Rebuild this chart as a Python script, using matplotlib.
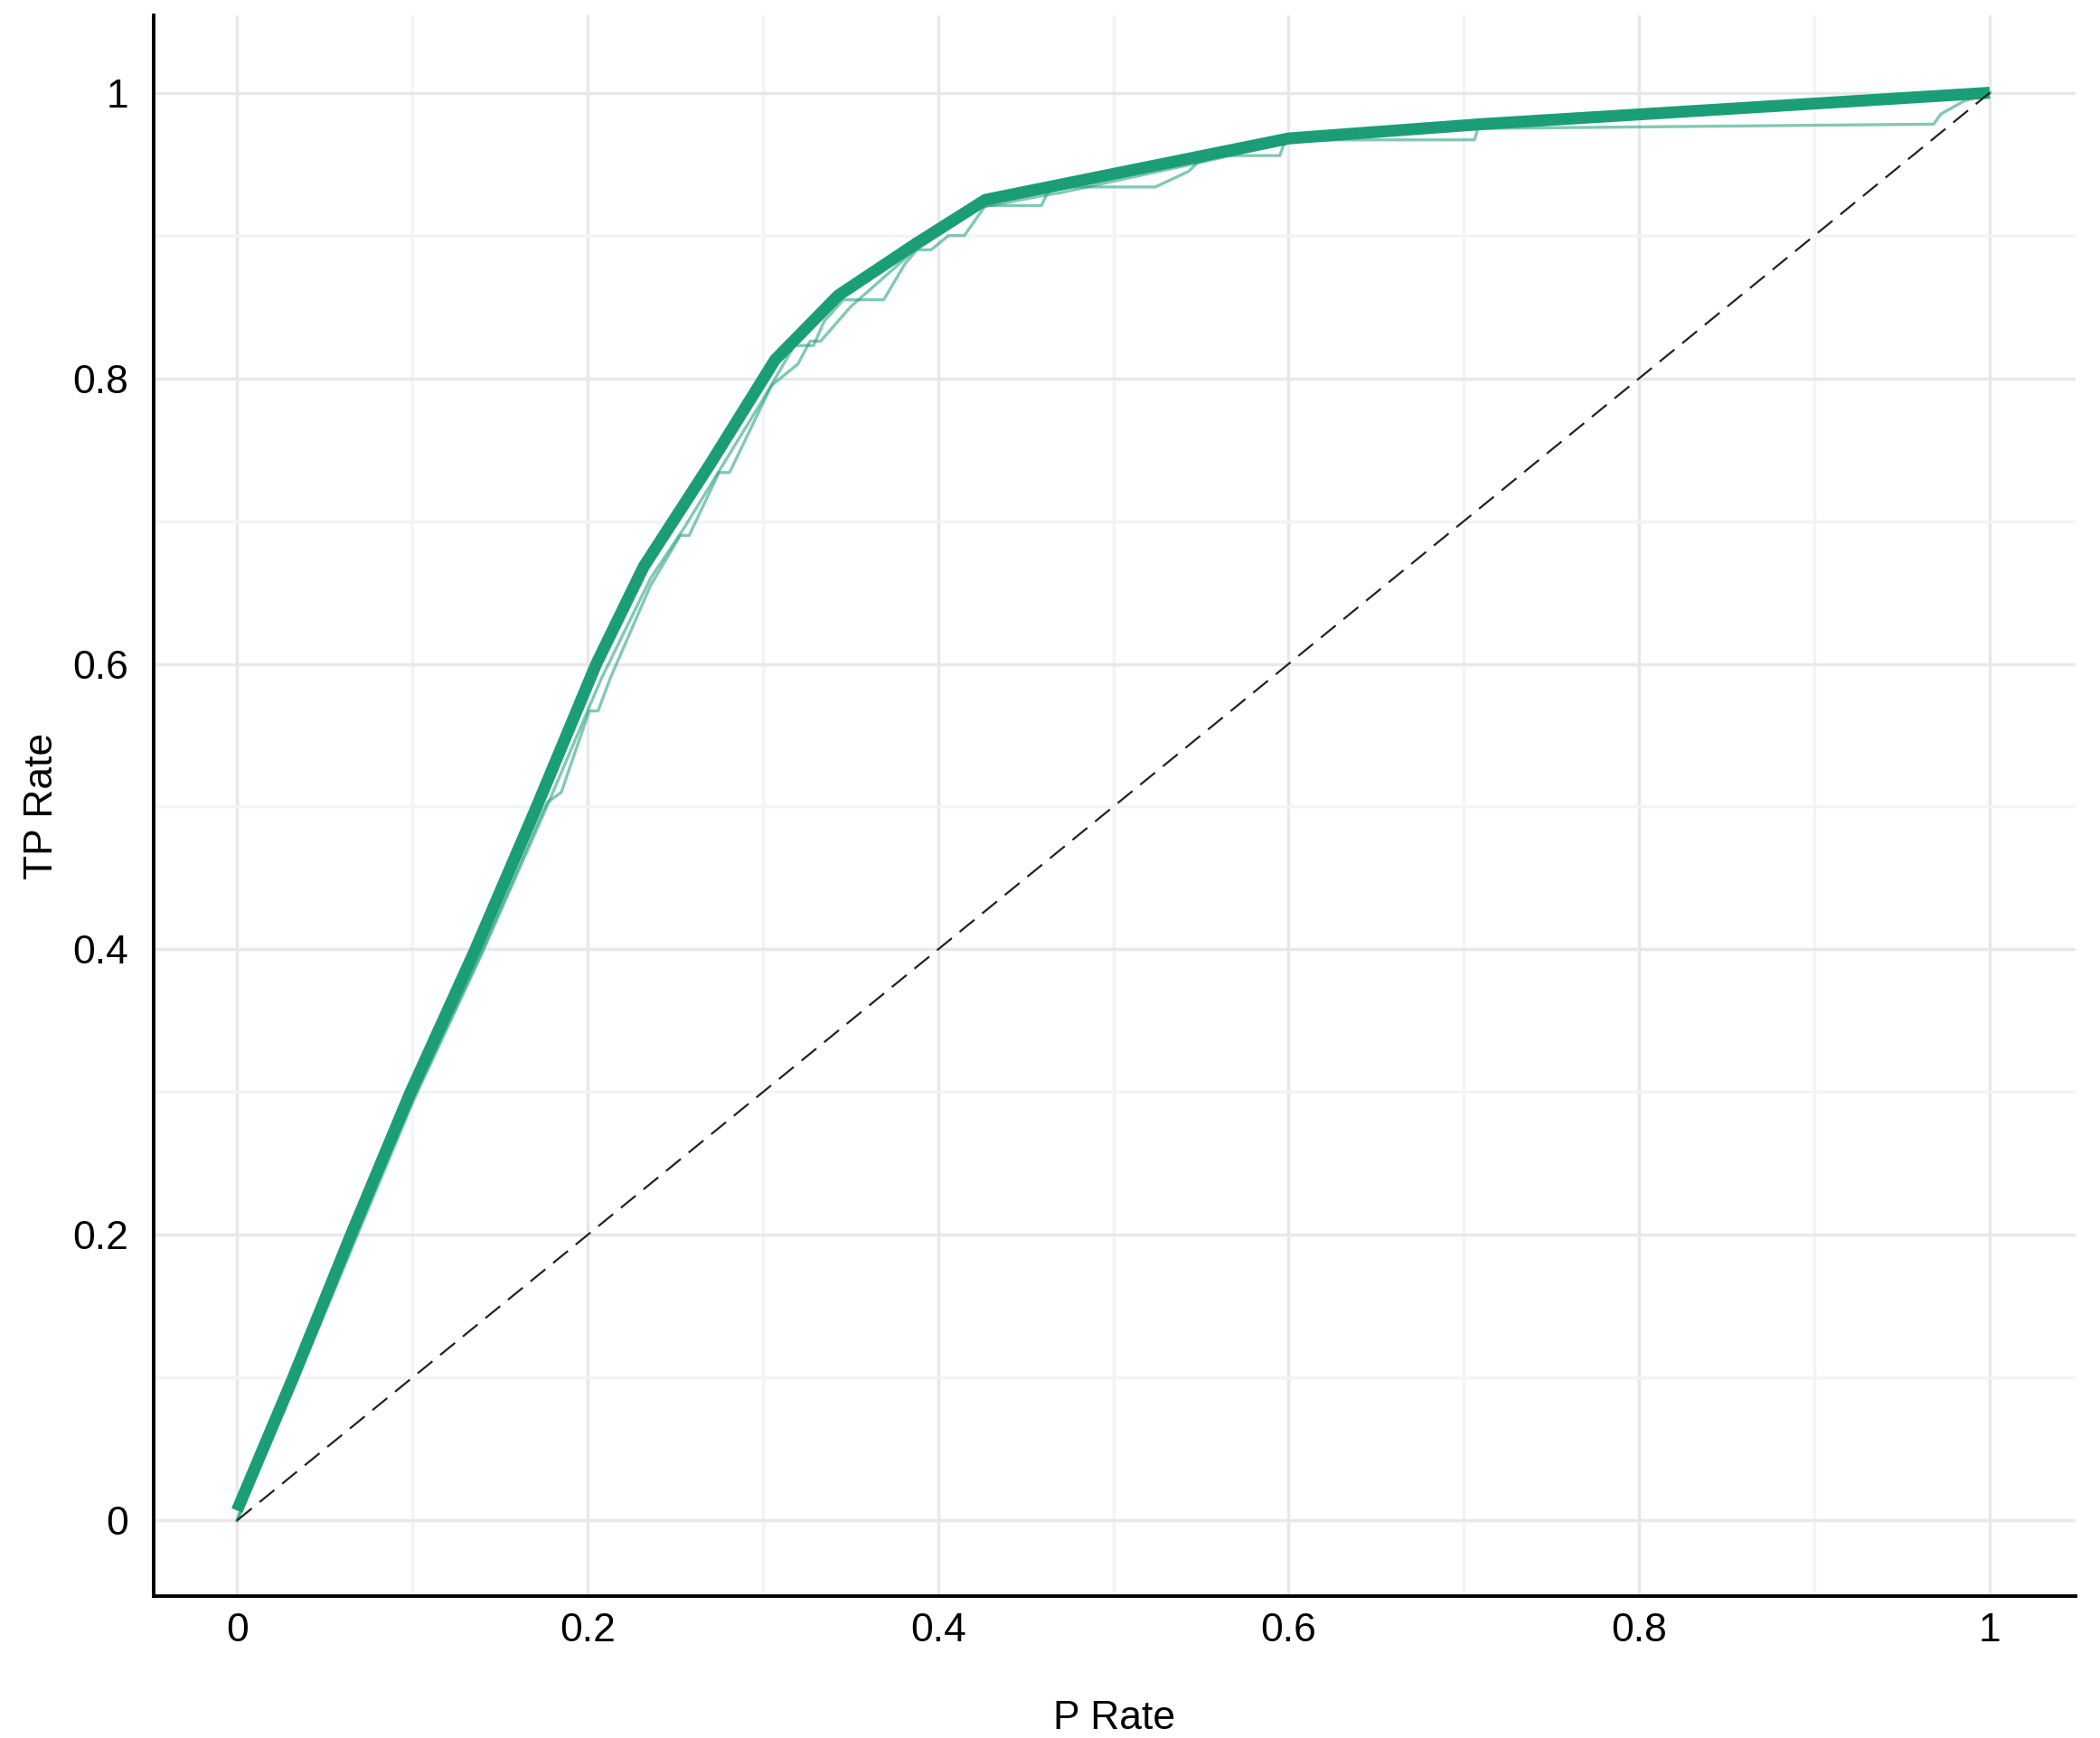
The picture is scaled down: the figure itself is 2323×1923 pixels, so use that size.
import matplotlib
matplotlib.use('Agg')
import matplotlib.pyplot as plt
from matplotlib.ticker import MultipleLocator, FuncFormatter

plt.rcParams['font.family'] = ['Liberation Sans', 'DejaVu Sans']

green = '#1b9e77'

# mean curve
p_rate = [0.0, 0.032, 0.065, 0.099, 0.136, 0.171, 0.205, 0.232, 0.270, 0.307,
          0.343, 0.387, 0.427, 0.600, 0.710, 1.0]
tp_rate = [0.007, 0.10, 0.20, 0.30, 0.40, 0.50, 0.60, 0.668, 0.740, 0.813,
           0.858, 0.894, 0.925, 0.968, 0.978, 1.0]

# single runs (thin, stepped)
run_a_x = [0.0, 0.033, 0.067, 0.101, 0.139, 0.175, 0.208, 0.236, 0.255, 0.28, 0.30,
           0.318, 0.329, 0.335, 0.346, 0.369, 0.381, 0.388, 0.396, 0.406, 0.415,
           0.427, 0.459, 0.462, 0.468, 0.524, 0.543, 0.548, 0.561, 0.595, 0.597,
           0.600, 0.706, 0.708, 0.968, 0.972, 0.985, 1.0]
run_a_y = [0.0, 0.095, 0.195, 0.295, 0.395, 0.495, 0.59, 0.66, 0.695, 0.745, 0.785,
           0.823, 0.823, 0.84, 0.855, 0.855, 0.88, 0.89, 0.89, 0.90, 0.90,
           0.921, 0.921, 0.929, 0.934, 0.934, 0.945, 0.951, 0.956, 0.956, 0.963,
           0.967, 0.967, 0.975, 0.978, 0.985, 0.994, 1.0]

run_b_x = [0.0, 0.033, 0.066, 0.101, 0.139, 0.172, 0.177, 0.185, 0.201, 0.206,
           0.213, 0.236, 0.253, 0.258, 0.275, 0.281, 0.305, 0.32, 0.327, 0.333,
           0.35, 0.385, 0.425, 0.43, 0.46, 0.47, 0.545, 0.60, 0.70, 0.80, 0.90, 1.0]
run_b_y = [0.0, 0.097, 0.197, 0.297, 0.397, 0.49, 0.503, 0.51, 0.567, 0.567,
           0.59, 0.655, 0.69, 0.69, 0.734, 0.734, 0.795, 0.81, 0.826, 0.826,
           0.85, 0.888, 0.92, 0.921, 0.928, 0.93, 0.95, 0.965, 0.976, 0.983, 0.99, 1.0]

fig = plt.figure(figsize=(23.23, 19.23), dpi=100)
ax = fig.add_axes([0.0732, 0.0816, 0.9152, 0.9094])

ax.plot(run_a_x, run_a_y, color=green, lw=2.4, alpha=0.55)
ax.plot(run_b_x, run_b_y, color=green, lw=2.4, alpha=0.55)
ax.plot(p_rate, tp_rate, color=green, lw=9.5, solid_capstyle='butt',
        solid_joinstyle='miter')

diag, = ax.plot([0, 1], [0, 1], color='#222222', lw=1.6)
diag.set_dashes([9.5, 5])

ax.set_xlim(-0.0475, 1.049)
ax.set_ylim(-0.053, 1.054)

for a in (ax.xaxis, ax.yaxis):
    a.set_major_locator(MultipleLocator(0.2))
    a.set_minor_locator(MultipleLocator(0.1))
    a.set_major_formatter(FuncFormatter(lambda v, p: '%g' % round(v, 2)))

ax.set_axisbelow(True)
ax.grid(which='major', color='#e8e8e8', lw=2.5)
ax.grid(which='minor', color='#f4f4f4', lw=2.5)

ax.tick_params(which='both', length=0, labelsize=32, colors='black')
ax.tick_params(axis='x', pad=13)
ax.tick_params(axis='y', pad=20)

for s in ('top', 'right'):
    ax.spines[s].set_visible(False)
for s in ('left', 'bottom'):
    ax.spines[s].set_linewidth(2.8)
    ax.spines[s].set_color('black')

ax.set_xlabel('P Rate', fontsize=32, labelpad=40)
ax.set_ylabel('TP Rate', fontsize=32, labelpad=10)

fig.savefig('out.png', dpi=100, facecolor='white')
